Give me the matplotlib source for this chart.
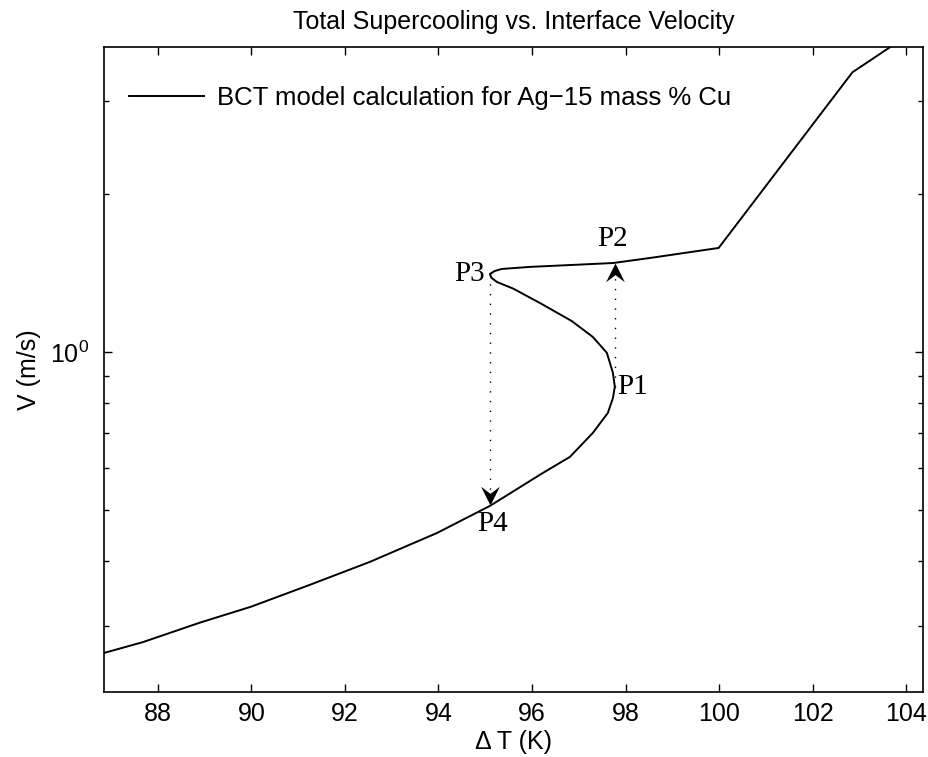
import numpy as np
import matplotlib
matplotlib.use("Agg")
import matplotlib.pyplot as plt
from matplotlib.path import Path
from matplotlib.ticker import NullFormatter

plt.rcParams['font.family'] = ['Liberation Sans', 'DejaVu Sans']

# curve, in order along the line
dT = [86.85, 87.68, 88.90, 89.99, 91.25, 92.53, 93.97, 95.10, 96.23, 96.81,
      97.30, 97.62, 97.73, 97.77, 97.73, 97.60, 97.30, 96.85, 96.20, 95.60,
      95.25, 95.13, 95.10, 95.20, 95.35, 95.95, 97.73, 98.52, 99.99, 102.85,
      103.64, 104.40]
V = [0.267, 0.280, 0.305, 0.327, 0.360, 0.398, 0.452, 0.509, 0.588, 0.631,
     0.701, 0.765, 0.817, 0.858, 0.912, 0.996, 1.068, 1.145, 1.235, 1.320,
     1.359, 1.385, 1.408, 1.426, 1.439, 1.452, 1.477, 1.510, 1.578, 3.41,
     3.80, 4.25]

# transition points
p_names = ['P1', 'P2', 'P3', 'P4']
p_x = [97.77, 97.77, 95.10, 95.10]
p_y = [0.858, 1.477, 1.408, 0.511]

title = 'Total Supercooling vs. Interface Velocity'
legend_label = 'BCT model calculation for Ag\u221215 mass % Cu'

fig = plt.figure(figsize=(9.29, 7.57), dpi=100)
ax = fig.add_axes([0.112, 0.0859, 0.8816, 0.852])

ax.plot(dT, V, color='black', lw=1.4, label=legend_label)
ax.set_yscale('log')
ax.set_xlim(86.85, 104.36)
ax.set_ylim(0.225, 3.81)
ax.set_xticks(np.arange(88, 105, 2))
ax.yaxis.set_minor_formatter(NullFormatter())

# dotted jumps with notched arrowheads
head_up = Path([(0, 0), (-0.5, -1), (0, -0.62), (0.5, -1), (0, 0)],
               [Path.MOVETO, Path.LINETO, Path.LINETO, Path.LINETO, Path.CLOSEPOLY])
head_down = Path([(0, 0), (-0.5, 1), (0, 0.62), (0.5, 1), (0, 0)],
                 [Path.MOVETO, Path.LINETO, Path.LINETO, Path.LINETO, Path.CLOSEPOLY])
for i0, i1, head in [(0, 1, head_up), (2, 3, head_down)]:
    ax.plot([p_x[i0], p_x[i1]], [p_y[i0], p_y[i1]], color='black',
            lw=1.0, linestyle=(0, (1, 6)))
    ax.plot([p_x[i1]], [p_y[i1]], marker=head, markersize=27,
            color='black', markeredgewidth=0, linestyle='none')

serif = ['Liberation Serif', 'DejaVu Serif']
offsets = [((2, 0), 'left', 'center'), ((-2, 8), 'center', 'bottom'),
           ((-4, 0), 'right', 'center'), ((2, -4), 'center', 'top')]
for name, x, y, (off, ha, va) in zip(p_names, p_x, p_y, offsets):
    ax.annotate(name, (x, y), xytext=off, textcoords='offset points',
                ha=ha, va=va, fontsize=21, family=serif)

ax.tick_params(which='both', direction='in', top=True, right=True,
               labelsize=18, width=1.0)
ax.tick_params(which='major', length=6)
ax.tick_params(which='minor', length=3.5)
ax.tick_params(axis='x', which='major', pad=7)
ax.tick_params(axis='y', which='major', pad=11)
for s in ax.spines.values():
    s.set_linewidth(1.2)

ax.set_title(title, fontsize=18, pad=13)
ax.set_xlabel('\u0394 T (K)', fontsize=18, labelpad=3)
ax.set_ylabel('V (m/s)', fontsize=18, labelpad=6)

ax.legend(loc='upper left', frameon=False, fontsize=18.5, handlelength=2.9,
          handletextpad=0.5, borderaxespad=0, borderpad=0,
          bbox_to_anchor=(0.031, 0.94))

fig.savefig('out.png', dpi=100)
